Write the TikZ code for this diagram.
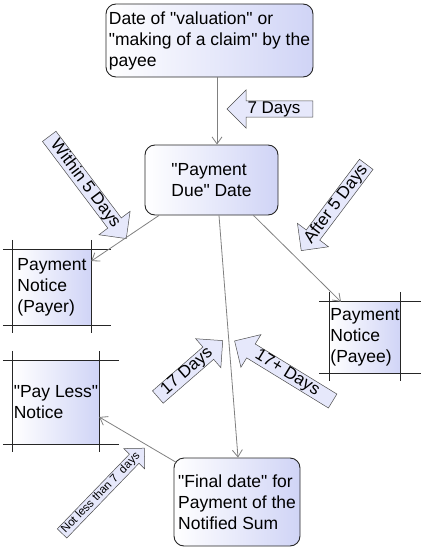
\documentclass[tikz,border=0pt]{standalone}
\usepackage{fontspec}
\setmainfont{Liberation Sans}
\usetikzlibrary{shapes.arrows,arrows.meta}

\definecolor{boxblue}{RGB}{208,212,246}
\definecolor{arrowblue}{RGB}{230,232,251}
\definecolor{linkgray}{RGB}{128,128,128}

% straight double quote
\newcommand{\dq}{\textquotedbl}

\tikzset{
  datebox/.style={draw=black!85, line width=0.9pt, rounded corners=10pt,
    left color=white, right color=boxblue, align=left, inner sep=1pt,
    font=\fontsize{17.5}{21}\selectfont},
  noticebox/.style={left color=white, right color=boxblue, align=left,
    inner sep=0.5pt, font=\fontsize{17.5}{21}\selectfont},
  frameline/.style={draw=black!85, line width=0.9pt},
  daysarrow/.style={single arrow, draw=black!70, line width=0.5pt,
    fill=arrowblue, single arrow head extend=11pt, inner xsep=2pt,
    inner ysep=0.3pt, font=\fontsize{17}{20}\selectfont},
  smallarrow/.style={daysarrow, single arrow head extend=8pt,
    inner ysep=1pt, font=\fontsize{11.5}{13}\selectfont},
  link/.style={draw=linkgray, line width=0.8pt,
    -{Straight Barb[length=7pt,width=10pt]}}
}

% frame with lines running past the corners
\newcommand{\sketchframe}[1]{%
  \draw[frameline] ([xshift=-10pt]#1.north west) -- ([xshift=20pt]#1.north east);%
  \draw[frameline] ([xshift=-10pt]#1.south west) -- ([xshift=20pt]#1.south east);%
  \draw[frameline] ([yshift=10pt]#1.north west) -- ([yshift=-8pt]#1.south west);%
  \draw[frameline] ([yshift=10pt]#1.north east) -- ([yshift=-8pt]#1.south east);%
}

\begin{document}
\begin{tikzpicture}[x=1pt,y=-1pt]
  \useasboundingbox (0,0) rectangle (429,559);

  % Date boxes
  \node[datebox, minimum width=207pt, minimum height=73pt] (claim) at (209.5,40.5)
    {Date of \dq valuation\dq{} or\\\dq making of a claim\dq{} by the\\payee};%
  \node[datebox, minimum width=133pt, minimum height=70pt] (due) at (211.5,180)
    {\dq Payment\\Due\dq{} Date};%
  \node[datebox, minimum width=126pt, minimum height=88pt] (final) at (237,502)
    {\dq Final date\dq{} for\\Payment of the\\Notified Sum};%

  % Notice boxes
  \node[noticebox, minimum width=78pt, minimum height=75pt] (payer) at (52,287.5)
    {Payment\\Notice\\(Payer)};%
  \sketchframe{payer}
  \node[noticebox, minimum width=71pt, minimum height=71pt] (payee) at (365,337.5)
    {Payment\\Notice\\(Payee)};%
  \sketchframe{payee}
  \node[noticebox, minimum width=86pt, minimum height=83pt] (payless) at (56,402.5)
    {\dq Pay Less\dq\\Notice};%
  \sketchframe{payless}

  % Period arrows
  \node[daysarrow, shape border rotate=180, minimum height=86pt] (sevendays) at (274,109) {7 Days};%
  \node[daysarrow, rotate=-53, minimum height=128pt] (withinfive) at (85.2,184.1) {Within 5 Days};%
  \node[daysarrow, rotate=53, shape border rotate=180, minimum height=108pt] (afterfive) at (336.3,204.1) {After 5 Days};%
  \node[daysarrow, rotate=41, minimum height=86pt] (seventeen) at (187.2,371.5) {17 Days};%
  \node[daysarrow, rotate=-31.5, shape border rotate=180, minimum height=115pt] (seventeenplus) at (287.1,373.1) {17+ Days};%
  \node[smallarrow, rotate=46, minimum height=111pt] (notless) at (100.9,493.2) {Not less than 7\ \ days};%

  % Connectors
  \draw[link] ([xshift=7.5pt]claim.south) -- ([xshift=5.5pt]due.north);%
  \draw[link] (due) -- (payer);%
  \draw[link] ([xshift=42pt]due.south) -- ([xshift=-24pt]payee.north);%
  \draw[link] ([xshift=7.5pt]due.south) -- ([xshift=1pt]final.north);%
  \draw[link] ([xshift=3pt,yshift=-5pt]final.north west) -- ([yshift=-14.5pt]payless.east);%
\end{tikzpicture}
\end{document}
